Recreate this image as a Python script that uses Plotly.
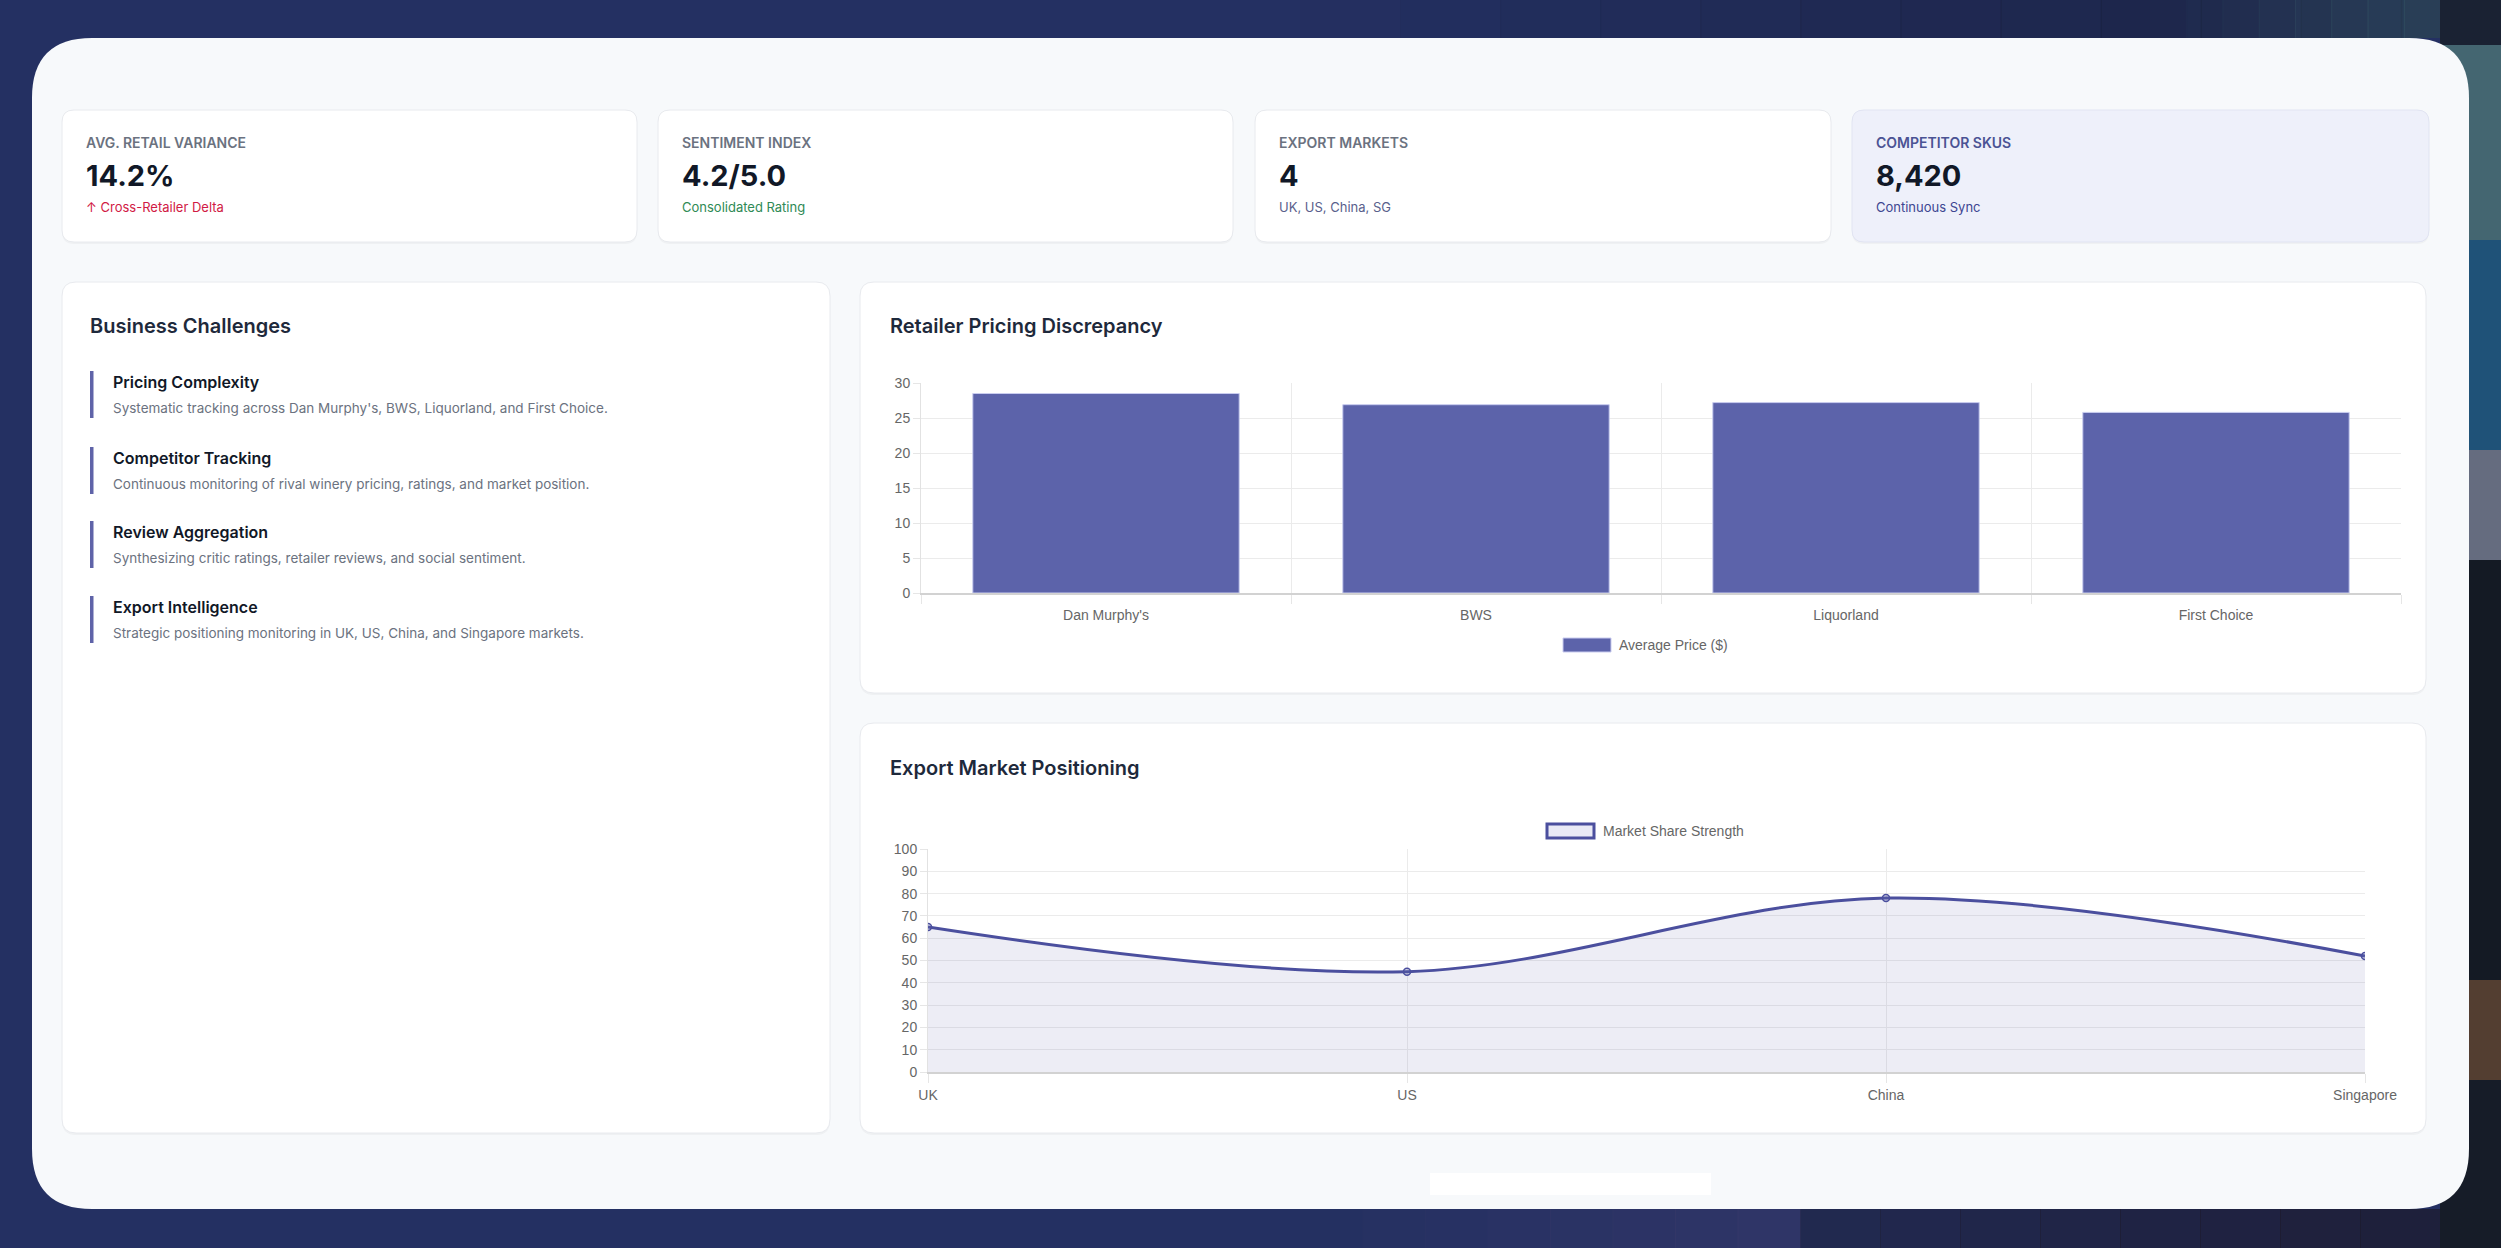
import plotly.graph_objects as go

# ---------------- data ----------------
kpi_labels = ["AVG. RETAIL VARIANCE", "SENTIMENT INDEX", "EXPORT MARKETS", "COMPETITOR SKUS"]
kpi_values = ["14.2%", "4.2/5.0", "4", "8,420"]
kpi_subs = ["↑ Cross-Retailer Delta", "Consolidated Rating", "UK, US, China, SG", "Continuous Sync"]

challenge_titles = ["Pricing Complexity", "Competitor Tracking", "Review Aggregation", "Export Intelligence"]
challenge_descs = [
    "Systematic tracking across Dan Murphy's, BWS, Liquorland, and First Choice.",
    "Continuous monitoring of rival winery pricing, ratings, and market position.",
    "Synthesizing critic ratings, retailer reviews, and social sentiment.",
    "Strategic positioning monitoring in UK, US, China, and Singapore markets.",
]

retailers = ["Dan Murphy's", "BWS", "Liquorland", "First Choice"]
avg_price = [28.5, 26.9, 27.2, 25.8]
bar_series_name = "Average Price ($)"

markets = ["UK", "US", "China", "Singapore"]
market_strength = [65, 45, 78, 52]
line_series_name = "Market Share Strength"

panel_titles = ["Business Challenges", "Retailer Pricing Discrepancy", "Export Market Positioning"]

# ---------------- helpers ----------------
W, H = 2501, 1248


def X(x):
    return x / W


def Y(y):
    return 1 - y / H


def rrect(x0, y0, x1, y1, r):
    return (f"M {X(x0 + r)},{Y(y0)} L {X(x1 - r)},{Y(y0)} Q {X(x1)},{Y(y0)} {X(x1)},{Y(y0 + r)} "
            f"L {X(x1)},{Y(y1 - r)} Q {X(x1)},{Y(y1)} {X(x1 - r)},{Y(y1)} "
            f"L {X(x0 + r)},{Y(y1)} Q {X(x0)},{Y(y1)} {X(x0)},{Y(y1 - r)} "
            f"L {X(x0)},{Y(y0 + r)} Q {X(x0)},{Y(y0)} {X(x0 + r)},{Y(y0)} Z")


shapes = []
annotations = []


def add_rrect(x0, y0, x1, y1, r, fill, line=None, lw=1, layer="below"):
    shapes.append(dict(type="path", xref="paper", yref="paper", path=rrect(x0, y0, x1, y1, r),
                       fillcolor=fill, line=dict(color=line or fill, width=lw if line else 0), layer=layer))


def add_rect(x0, y0, x1, y1, fill, line=None, lw=0, layer="below", opacity=1):
    shapes.append(dict(type="rect", xref="paper", yref="paper", x0=X(x0), x1=X(x1), y0=Y(y1), y1=Y(y0),
                       fillcolor=fill, line=dict(color=line or fill, width=lw), layer=layer, opacity=opacity))


def hgrad(x0, x1, y0, y1, color, a0, a1, steps=12):
    for k in range(steps):
        xa = x0 + (x1 - x0) * k / steps
        xb = x0 + (x1 - x0) * (k + 1) / steps
        a = a0 + (a1 - a0) * (k + 0.5) / steps
        add_rect(xa, y0, xb + 1, y1, color, opacity=a)


def add_text(x, y, text, size, color, weight=400, family="Inter", xanchor="left"):
    annotations.append(dict(xref="paper", yref="paper", x=X(x), y=Y(y), text=text, showarrow=False,
                            xanchor=xanchor, yanchor="middle", borderpad=0,
                            font=dict(family=family, size=size, color=color, weight=weight)))


# ---------------- background decorations ----------------
hgrad(1300, 2501, 0, 38, "#171d36", 0.0, 0.7)
hgrad(2150, 2440, 0, 38, "#3d6670", 0.0, 0.45, steps=8)
hgrad(1300, 1800, 1209, 1248, "#3c3b6c", 0.0, 0.5, steps=8)
hgrad(1800, 2440, 1209, 1248, "#1c1a2c", 0.3, 0.75, steps=8)
add_rect(2440, 0, 2501, 1248, "#1a2233")
add_rect(2440, 45, 2501, 240, "#4c727d", opacity=0.85)
add_rect(2440, 240, 2501, 450, "#20587f", opacity=0.9)
add_rect(2440, 450, 2501, 560, "#868ba0", opacity=0.7)
add_rect(2440, 560, 2501, 980, "#141a24")
add_rect(2440, 980, 2501, 1080, "#5e4331", opacity=0.85)
add_rect(2440, 1080, 2501, 1248, "#161c28")

# main light panel
add_rrect(32, 38, 2469, 1209, 60, "#f7f9fb")
add_rect(1430, 1173, 1711, 1195, "#ffffff")

# ---------------- KPI cards ----------------
card_x = [(62, 637), (658, 1233), (1255, 1831), (1852, 2429)]
for i, (x0, x1) in enumerate(card_x):
    highlight = i == 3
    add_rrect(x0, 111, x1, 244, 12, "rgba(15,23,42,0.035)")
    add_rrect(x0, 110, x1, 242, 12, "#eef0fa" if highlight else "#ffffff",
              line="#e1e4f2" if highlight else "#e8eaee", lw=1)
    tx = x0 + 23
    add_text(tx, 142, kpi_labels[i], 14, "#4b5394" if highlight else "#6b7280", weight=600)
    add_text(tx, 176, kpi_values[i], 29, "#111827", weight=700)
sub_colors = ["#d11a44", "#2f8a55", "#5a5f8c", "#3d4691"]
for i, (x0, x1) in enumerate(card_x):
    add_text(x0 + 23, 207, kpi_subs[i], 13, sub_colors[i], weight=400)

# ---------------- content panels ----------------
for (x0, y0, x1, y1) in [(62, 282, 830, 1133), (860, 282, 2426, 693), (860, 723, 2426, 1133)]:
    add_rrect(x0, y0 + 1, x1, y1 + 2, 14, "rgba(15,23,42,0.035)")
    add_rrect(x0, y0, x1, y1, 14, "#ffffff", line="#e8eaee", lw=1)

add_text(89, 326, panel_titles[0], 20, "#1e293b", weight=600)
add_text(889, 326, panel_titles[1], 20, "#1e293b", weight=600)
add_text(889, 768, panel_titles[2], 20, "#1e293b", weight=600)

item_top = [371, 447, 521, 596]
for i in range(len(challenge_titles)):
    t = item_top[i]
    add_rect(90, t, 93.5, t + 47, "#5f63a8")
    add_text(112, t + 11, challenge_titles[i], 16, "#111827", weight=600)
    add_text(112, t + 37, challenge_descs[i], 13.5, "#6b7280", weight=400)

# ---------------- charts ----------------
bar_color = "#5c63aa"
line_color = "#4b4f9e"
tickfont = dict(family="Liberation Sans", size=14, color="#666666")
grid = "#ebebeb"

fig = go.Figure()
fig.add_trace(go.Bar(
    x=retailers, y=avg_price, name=bar_series_name,
    marker=dict(color=bar_color, line=dict(color="#c9ccef", width=1)),
    xaxis="x", yaxis="y", showlegend=False, hoverinfo="x+y",
))
fig.add_trace(go.Scatter(
    x=markets, y=market_strength, name=line_series_name, mode="lines+markers",
    line=dict(color=line_color, width=3, shape="spline", smoothing=1.0),
    marker=dict(size=7, color="rgba(92,99,170,0.25)", line=dict(color=line_color, width=1.5)),
    fill="tozeroy", fillcolor="rgba(75,79,158,0.10)",
    xaxis="x2", yaxis="y2", showlegend=False,
))

add_rect(1563, 638, 1611, 652, bar_color, line="#c9ccef", lw=1, layer="above")
add_text(1618, 645, bar_series_name, 14, "#666666", family="Liberation Sans")
add_rect(1547, 824, 1594, 838, "#e9e9f5", line=line_color, lw=3, layer="above")
add_text(1602, 831, line_series_name, 14, "#666666", family="Liberation Sans")

axis_common = dict(fixedrange=True, automargin=False, tickfont=tickfont, showgrid=True, gridcolor=grid)

fig.update_layout(
    width=W, height=H, autosize=False, showlegend=False,
    margin=dict(l=0, r=0, t=0, b=0, pad=0, autoexpand=False),
    paper_bgcolor="#243062", plot_bgcolor="rgba(0,0,0,0)",
    bargap=0.28,
    shapes=shapes, annotations=annotations,
    xaxis=dict(domain=[X(921), X(2401)], anchor="y", type="category", range=[-0.5, 3.5],
               tickson="boundaries", ticks="outside", ticklen=9, tickcolor="#e6e6e6",
               ticklabelstandoff=8, showline=True, linecolor="#d2d2d2", linewidth=1.5, **axis_common),
    yaxis=dict(domain=[Y(593), Y(383)], anchor="x", range=[0, 30], dtick=5,
               ticks="outside", ticklen=7, tickcolor="#e6e6e6",
               zeroline=False, showline=True, linecolor="#e2e2e2", **axis_common),
    xaxis2=dict(domain=[X(928), X(2365)], anchor="y2", type="category", range=[0, 3],
                ticks="outside", ticklen=9, tickcolor="#e6e6e6",
                showline=True, linecolor="#d2d2d2", linewidth=1.5, **axis_common),
    yaxis2=dict(domain=[Y(1072), Y(849)], anchor="x2", range=[0, 100], dtick=10,
                ticks="outside", ticklen=7, tickcolor="#e6e6e6",
                zeroline=False, showline=True, linecolor="#e2e2e2", **axis_common),
)

fig.write_html("out.html")
